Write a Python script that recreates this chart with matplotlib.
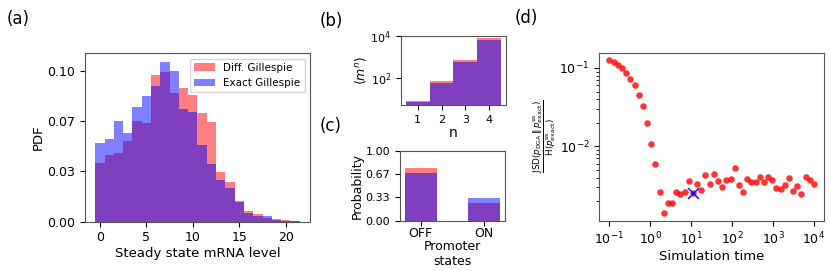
import numpy as np
import matplotlib
matplotlib.use("Agg")
import matplotlib.pyplot as plt
from matplotlib.ticker import FixedLocator, NullLocator

# (a) histogramme de l'ARNm en régime stationnaire
niveaux = np.arange(0, 22)
pdf_diff = [0.039, 0.044, 0.0455, 0.0534, 0.0664, 0.0656, 0.097, 0.0993, 0.0854, 0.0883, 0.0839,
            0.0722, 0.0658, 0.0331, 0.026, 0.0137, 0.0071, 0.0053, 0.0022, 0.0018, 0.001, 0.0005]
pdf_exact = [0.0519, 0.055, 0.0664, 0.059, 0.076, 0.0834, 0.0898, 0.1055, 0.100, 0.0746, 0.0724,
             0.051, 0.038, 0.0276, 0.0221, 0.0128, 0.0055, 0.0035, 0.0038, 0.0012, 0.0006, 0.0002]

# (b) moments
ordres = [1, 2, 3, 4]
moments_diff = [7.55, 66.7, 705, 8300]
moments_exact = [6.77, 57, 583, 6600]

# (c) états du promoteur
etats = ["OFF", "ON"]
prob_diff = [0.755, 0.245]
prob_exact = [0.678, 0.322]

# (d) JSD normalisée en fonction du temps de simulation
temps = np.logspace(-1, 4, 50)
jsd = [0.125, 0.118, 0.109, 0.101, 0.0853, 0.0724, 0.0607, 0.0452, 0.0324, 0.0200,
       0.0107, 0.00589, 0.00265, 0.00141, 0.00192, 0.00189, 0.00258, 0.00245, 0.00258, 0.00361,
       0.00251, 0.00333, 0.00275, 0.00437, 0.00331, 0.00447, 0.00363, 0.00299, 0.00367, 0.00380,
       0.00525, 0.00326, 0.00258, 0.00380, 0.00355, 0.00347, 0.00407, 0.00347, 0.00412, 0.00372,
       0.00295, 0.00288, 0.00320, 0.00398, 0.00269, 0.00316, 0.00248, 0.00407, 0.00367, 0.00331]
idx_choisi = 20

fig = plt.figure(figsize=(8.3, 2.71), dpi=100)
cor_borda = "#555555"

def estilo(ax, tam):
    for s in ax.spines.values():
        s.set_color(cor_borda)
    ax.tick_params(labelsize=tam)

# --- (a)
ax_a = fig.add_axes([0.1024, 0.182, 0.271, 0.621])
ax_a.bar(niveaux, pdf_diff, width=1, color="red", alpha=0.5, label="Diff. Gillespie")
ax_a.bar(niveaux, pdf_exact, width=1, color="blue", alpha=0.5, label="Exact Gillespie")
ax_a.set_yticks([0, 1/30, 2/30, 3/30])
ax_a.set_yticklabels(["0.00", "0.03", "0.07", "0.10"])
ax_a.set_xticks([0, 5, 10, 15, 20])
ax_a.set_ylim(0, 0.1115)
ax_a.set_xlabel("Steady state mRNA level", fontsize=9.5, labelpad=2)
ax_a.set_ylabel("PDF", fontsize=9.5, labelpad=2)
ax_a.legend(fontsize=7.5, loc="upper right")
estilo(ax_a, 9)

# --- (b)
ax_b = fig.add_axes([0.4831, 0.6114, 0.1265, 0.257])
ax_b.set_yscale("log")
ax_b.bar(ordres, moments_diff, width=1, color="red", alpha=0.5)
ax_b.bar(ordres, moments_exact, width=1, color="blue", alpha=0.5)
ax_b.set_ylim(4.7, 1.08e4)
ax_b.yaxis.set_major_locator(FixedLocator([1e2, 1e4]))
ax_b.yaxis.set_minor_locator(NullLocator())
ax_b.set_xticks(ordres)
ax_b.set_xlabel("n", fontsize=10, labelpad=1)
ax_b.set_ylabel(r"$\langle m^n \rangle$", fontsize=9, labelpad=1)
estilo(ax_b, 8)

# --- (c)
ax_c = fig.add_axes([0.482, 0.1863, 0.1265, 0.2565])
x_c = np.arange(len(etats))
ax_c.bar(x_c, prob_diff, width=0.5, color="red", alpha=0.5)
ax_c.bar(x_c, prob_exact, width=0.5, color="blue", alpha=0.5)
ax_c.set_ylim(0, 1)
ax_c.set_yticks([0, 1/3, 2/3, 1])
ax_c.set_yticklabels(["0.00", "0.33", "0.67", "1.00"])
ax_c.set_xticks(x_c)
ax_c.set_xticklabels(etats)
ax_c.set_xlabel("Promoter\nstates", fontsize=9, labelpad=0)
ax_c.set_ylabel("Probability", fontsize=9, labelpad=1)
estilo(ax_c, 8)
ax_c.tick_params(axis="x", labelsize=9, pad=1.5)

# --- (d)
ax_d = fig.add_axes([0.722, 0.1856, 0.271, 0.62])
ax_d.set_xscale("log")
ax_d.set_yscale("log")
ax_d.scatter(temps, jsd, s=22, color="red", alpha=0.8, linewidths=0)
ax_d.scatter([temps[idx_choisi]], [jsd[idx_choisi]], s=60, marker="x", color="blue", linewidths=1)
ax_d.set_xticks([1e-1, 1e0, 1e1, 1e2, 1e3, 1e4])
ax_d.set_xlabel("Simulation time", fontsize=9.5, labelpad=2)
ax_d.set_ylabel(r"$\frac{\mathrm{JSD}(p_{\mathrm{DGA}}\,\|\,p^{\mathrm{ss}}_{\mathrm{exact}})}"
                r"{\mathrm{H}(p^{\mathrm{ss}}_{\mathrm{exact}})}$", fontsize=9, labelpad=1)
estilo(ax_d, 9)

# rótulos dos painéis
fig.text(7/830, 1 - 10/271, "(a)", fontsize=12, va="top")
fig.text(320/830, 1 - 12/271, "(b)", fontsize=12, va="top")
fig.text(320/830, 1 - 117/271, "(c)", fontsize=12, va="top")
fig.text(515/830, 1 - 9/271, "(d)", fontsize=12, va="top")

fig.savefig("out.png", dpi=100)
